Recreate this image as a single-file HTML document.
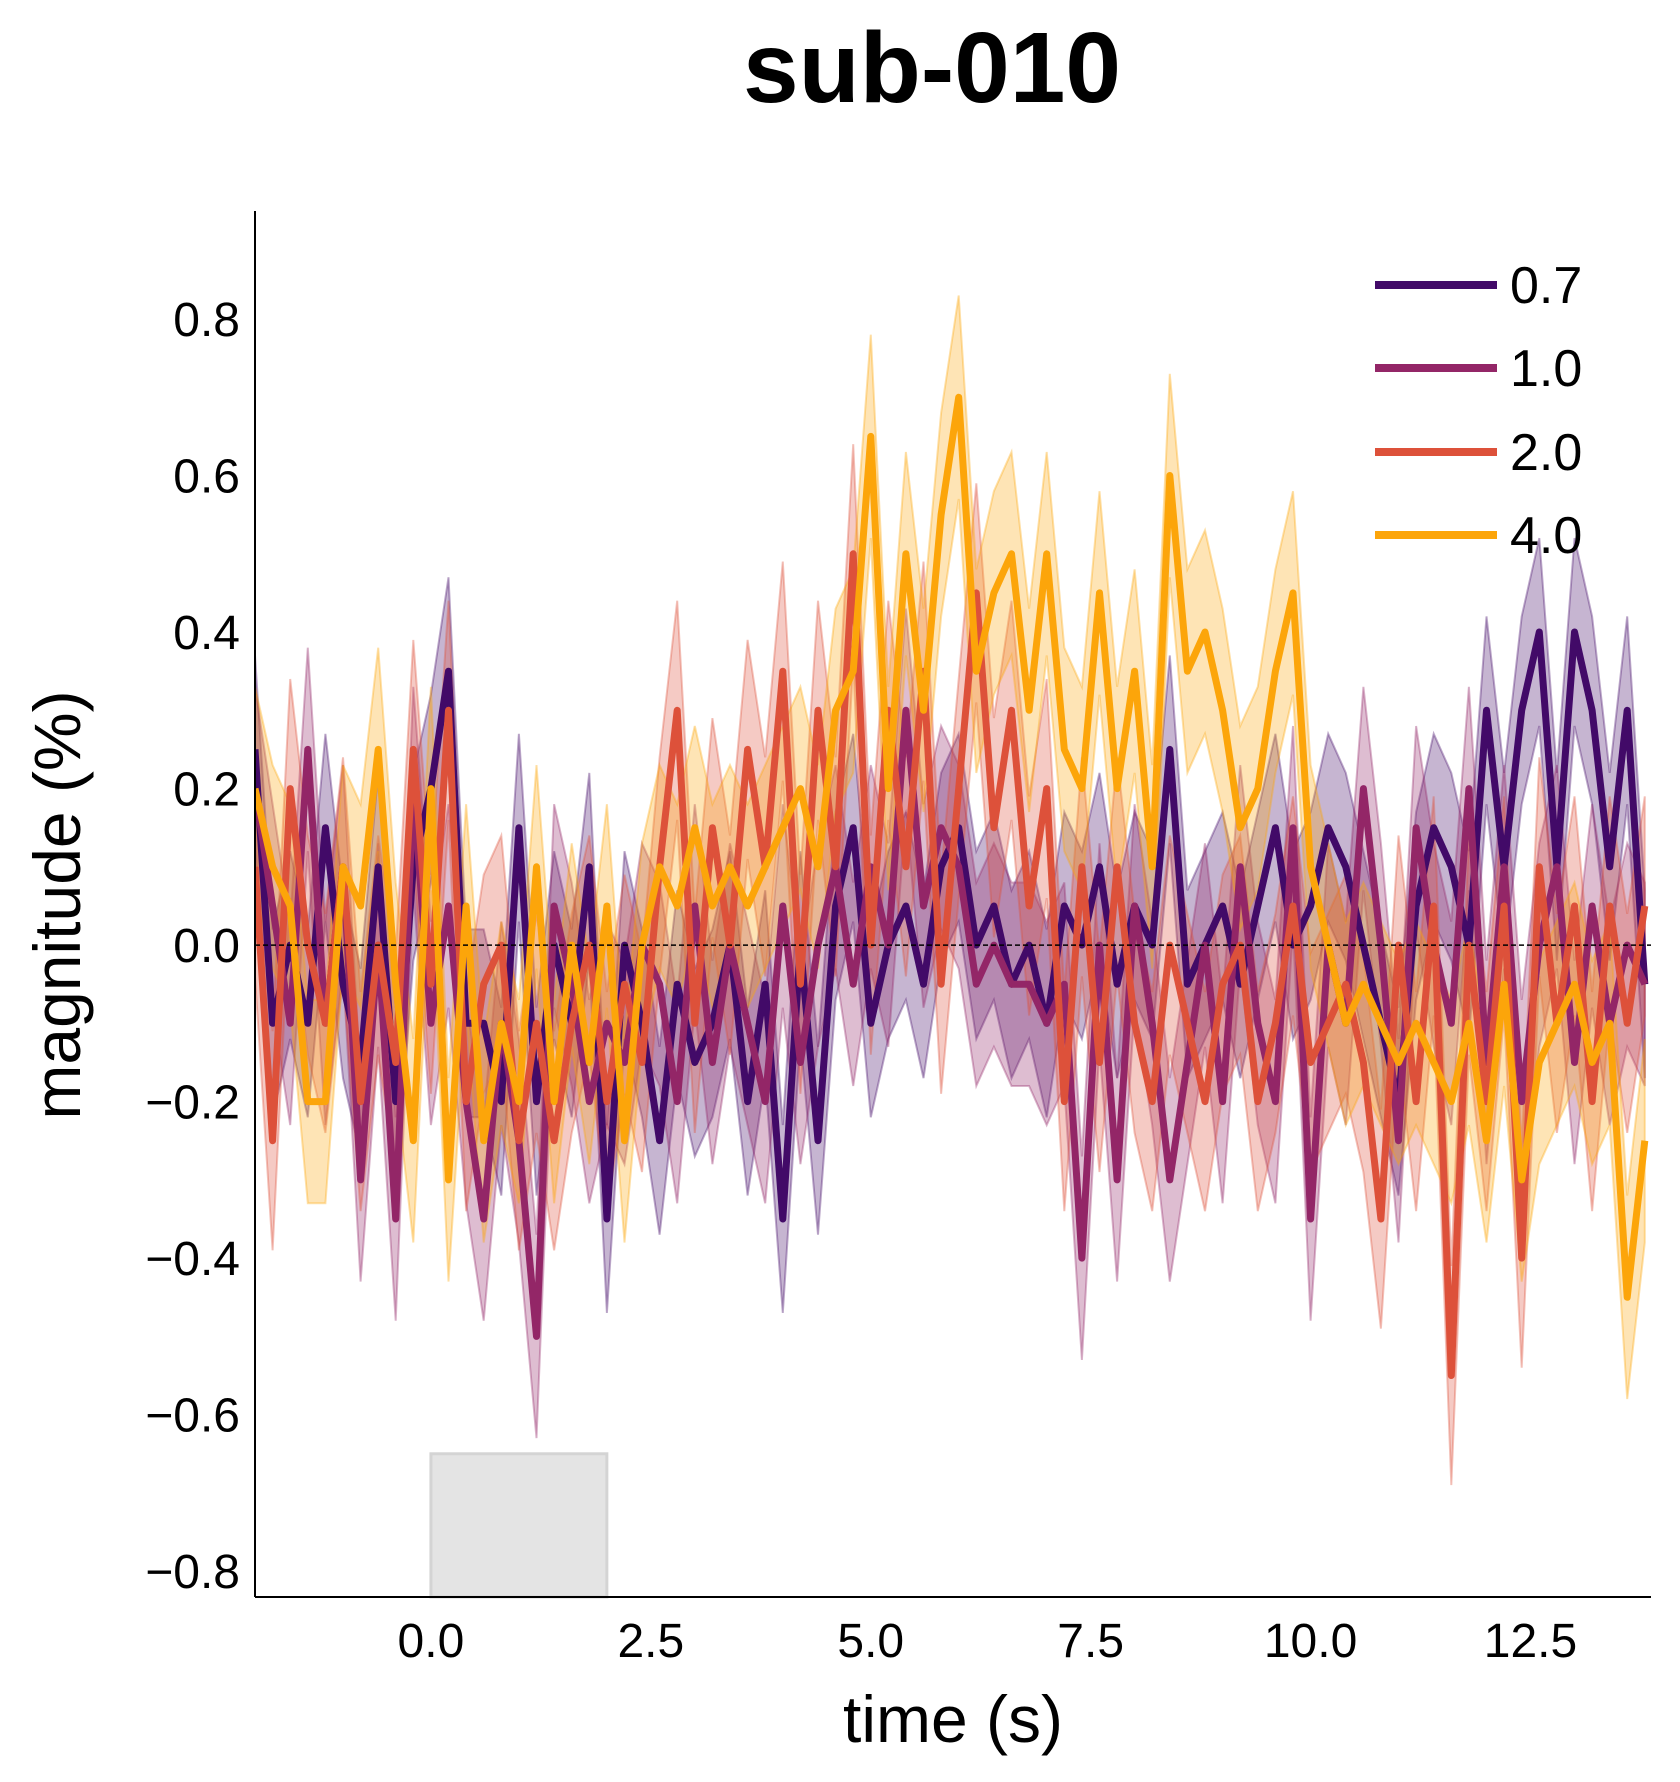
<!DOCTYPE html>
<html><head><meta charset="utf-8">
<style>
html,body{margin:0;padding:0;background:#fff;}
svg{display:block;font-family:"Liberation Sans",sans-serif;}
</style></head>
<body>
<svg id="chart" width="1680" height="1782" viewBox="0 0 1680 1782" xmlns="http://www.w3.org/2000/svg">
<text x="932" y="102" text-anchor="middle" font-size="100" font-weight="bold">sub-010</text>
<g id="plot"></g>
</svg>
<script>
const times = [];
const tStart = -2, tStep = 0.2, nPts = 80;
for (let i = 0; i < nPts; i++) times.push(tStart + i * tStep);
const conditions = ["0.7", "1.0", "2.0", "4.0"];
const s07 = [0.25,-0.1,0.0,-0.1,0.15,-0.05,-0.15,0.1,-0.2,0.1,0.2,0.35,-0.1,-0.1,-0.2,0.15,-0.2,0.0,-0.1,0.1,-0.35,0.0,-0.1,-0.25,-0.05,-0.15,-0.1,0.0,-0.2,-0.05,-0.35,0.0,-0.25,0.05,0.15,-0.1,0.0,0.05,-0.05,0.1,0.15,0.0,0.05,-0.05,0.0,-0.1,0.05,0.0,0.1,-0.05,0.05,0.0,0.25,-0.05,0.0,0.05,-0.05,0.05,0.15,0.0,0.05,0.15,0.1,0.0,-0.1,-0.2,0.05,0.15,0.1,0.0,0.3,0.1,0.3,0.4,0.1,0.4,0.3,0.1,0.3,-0.05];
const s10 = [0.2,0.05,-0.1,0.25,-0.1,0.1,-0.3,0.0,-0.35,0.2,-0.1,0.05,-0.2,-0.35,-0.1,-0.25,-0.5,0.05,-0.05,-0.2,-0.1,-0.15,0.0,-0.05,-0.2,0.05,-0.15,0.0,-0.1,-0.2,0.05,-0.15,0.0,0.1,-0.05,0.1,0.0,0.3,0.05,0.15,0.1,-0.05,0.0,-0.05,-0.05,-0.1,-0.05,-0.4,0.0,-0.3,0.05,-0.1,-0.3,-0.15,0.0,-0.2,0.1,-0.1,-0.2,0.15,-0.35,0.0,-0.1,0.2,0.0,-0.25,0.15,0.0,-0.1,0.2,-0.15,0.1,-0.2,0.0,0.1,-0.15,0.05,-0.1,0.0,-0.05];
const s20 = [0.1,-0.25,0.2,0.0,-0.1,0.1,-0.2,0.0,-0.15,0.25,-0.05,0.3,-0.2,-0.05,0.0,-0.25,-0.1,-0.25,-0.1,0.0,-0.2,-0.05,-0.15,0.1,0.3,-0.1,0.15,0.0,0.25,0.1,0.35,-0.05,0.3,0.1,0.5,0.0,0.3,0.1,0.35,-0.05,0.2,0.45,0.15,0.3,0.05,0.2,-0.2,0.1,-0.15,0.1,-0.1,-0.2,0.0,-0.1,-0.2,-0.05,0.0,-0.2,-0.1,0.05,-0.15,-0.1,-0.05,-0.15,-0.35,0.0,-0.2,0.05,-0.55,0.0,-0.2,0.05,-0.4,0.1,-0.1,0.05,-0.2,0.05,-0.1,0.05];
const s40 = [0.2,0.1,0.05,-0.2,-0.2,0.1,0.05,0.25,-0.05,-0.25,0.2,-0.3,0.05,-0.25,-0.1,-0.2,0.1,-0.2,0.0,-0.15,0.05,-0.25,0.0,0.1,0.05,0.15,0.05,0.1,0.05,0.1,0.15,0.2,0.1,0.3,0.35,0.65,0.2,0.5,0.3,0.55,0.7,0.35,0.45,0.5,0.3,0.5,0.25,0.2,0.45,0.2,0.35,0.1,0.6,0.35,0.4,0.3,0.15,0.2,0.35,0.45,0.1,0.0,-0.1,-0.05,-0.1,-0.15,-0.1,-0.15,-0.2,-0.1,-0.25,-0.05,-0.3,-0.15,-0.1,-0.05,-0.15,-0.1,-0.45,-0.25];
const ciHalf = [0.12, 0.13, 0.14, 0.13];
const xTicks = [0, 2.5, 5, 7.5, 10, 12.5];
const xTickLabels = ["0.0","2.5","5.0","7.5","10.0","12.5"];
const yTicks = [-0.8,-0.6,-0.4,-0.2,0,0.2,0.4,0.6,0.8];
const yTickLabels = ["\u22120.8","\u22120.6","\u22120.4","\u22120.2","0.0","0.2","0.4","0.6","0.8"];
const stimOn = 0, stimOff = 2, stimTop = -0.65;

const colors = ["#420a68","#932667","#dd513a","#fca50a"];
const series = [s07, s10, s20, s40];
const L = 255, R = 1651, T = 211, B = 1597;
const xMin = -2, xMax = 13.87, yMin = -0.833, yMax = 0.938;
const X = t => L + (t - xMin) / (xMax - xMin) * (R - L);
const Y = v => B - (v - yMin) / (yMax - yMin) * (B - T);
const NS = "http://www.w3.org/2000/svg";
const g = document.getElementById("plot");
function mk(tag, attrs, parent) {
  const e = document.createElementNS(NS, tag);
  for (const k in attrs) e.setAttribute(k, attrs[k]);
  (parent || g).appendChild(e);
  return e;
}
const clip = mk("clipPath", {id: "clp"});
mk("rect", {x: L, y: T, width: R - L, height: B - T}, clip);

const stim = mk("rect", {x: X(stimOn), y: Y(stimTop), width: X(stimOff) - X(stimOn), height: B - Y(stimTop), fill: "#e4e4e4", stroke: "#d4d4d4", "stroke-width": 3});



const data = mk("g", {"clip-path": "url(#clp)"});


series.forEach((s, k) => {
  let up = "", dn = "";
  s.forEach((v, i) => { up += (i ? "L" : "M") + X(times[i]).toFixed(1) + "," + Y(v + ciHalf[k]).toFixed(1); });
  for (let i = s.length - 1; i >= 0; i--) dn += "L" + X(times[i]).toFixed(1) + "," + Y(s[i] - ciHalf[k]).toFixed(1);
  const band = mk("path", {d: up + dn + "Z", fill: colors[k], "fill-opacity": 0.3, stroke: colors[k], "stroke-opacity": 0.35, "stroke-width": 2}, data);
  
  
});
series.forEach((s, k) => {
  const pts = s.map((v, i) => X(times[i]).toFixed(1) + "," + Y(v).toFixed(1)).join(" ");
  const ln = mk("polyline", {points: pts, fill: "none", stroke: colors[k], "stroke-width": 7, "stroke-linejoin": "round"}, data);
  
  
});
const zero = mk("line", {x1: L, x2: R, y1: Y(0), y2: Y(0), stroke: "#000", "stroke-width": 1.5, "stroke-dasharray": "5,3"});



const xa = mk("line", {x1: L, x2: R, y1: B, y2: B, stroke: "#000", "stroke-width": 2});


const ya = mk("line", {x1: L, x2: L, y1: T, y2: B, stroke: "#000", "stroke-width": 2});



xTicks.forEach((t, i) => {
  const tx = mk("text", {x: X(t), y: 1657, "text-anchor": "middle", "font-size": 48});
  tx.textContent = xTickLabels[i];
  
  
});
yTicks.forEach((v, i) => {
  const tx = mk("text", {x: 240, y: Y(v) + 17, "text-anchor": "end", "font-size": 48});
  tx.textContent = yTickLabels[i];
  
  
});
const xt = mk("text", {x: 953, y: 1742, "text-anchor": "middle", "font-size": 66});
xt.textContent = "time (s)";


const yt = mk("text", {x: 0, y: 0, "text-anchor": "middle", "font-size": 66, transform: "translate(80,905) rotate(-90)"});
yt.textContent = "magnitude (%)";



const legY = [285, 368, 452, 535];
conditions.forEach((c, k) => {
  const lg = mk("g", {});
  
  
  mk("line", {x1: 1375, x2: 1497, y1: legY[k], y2: legY[k], stroke: colors[k], "stroke-width": 8}, lg);
  const tx = mk("text", {x: 1510, y: legY[k] + 18, "font-size": 52}, lg);
  tx.textContent = c;
});
</script>
</body></html>
